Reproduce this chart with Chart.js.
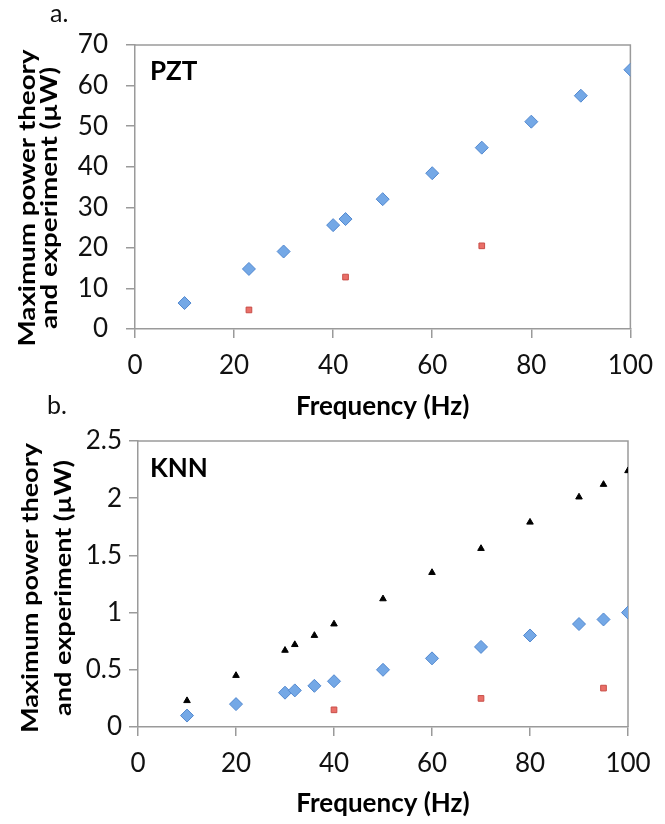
<!DOCTYPE html>
<html>
<head>
<meta charset="utf-8">
<script src="https://cdn.jsdelivr.net/npm/chart.js@4.4.1/dist/chart.umd.min.js"></script>
<style>
  html, body { margin: 0; padding: 0; background: #ffffff; }
  body { width: 665px; height: 824px; position: relative; overflow: hidden; }
  .wrap { position: absolute; left: 0; width: 665px; }
  #wrapA { top: 0; height: 430px; }
  #wrapB { top: 400px; height: 424px; }
  .lbl { position: absolute; font-family: Lato, "Open Sans", sans-serif; font-size: 25px; color: #111; }
</style>
</head>
<body>
<div class="wrap" id="wrapA"><canvas id="chartA" width="665" height="430"></canvas></div>
<div class="wrap" id="wrapB"><canvas id="chartB" width="665" height="424"></canvas></div>
<div class="lbl" style="left:50px; top:-3px;">a.</div>
<div class="lbl" style="left:47px; top:389px;">b.</div>
<script>
// ---------- DATA ----------
const xTickLabels = ['0', '20', '40', '60', '80', '100'];

// Panel a (PZT)
const pztTheoryFreq = [10, 23, 30, 40, 42.5, 50, 60, 70, 80, 90, 100];
const pztTheoryPower = [6.4, 14.8, 19.1, 25.6, 27.1, 32.0, 38.4, 44.7, 51.1, 57.5, 63.9];
const pztExpFreq = [23, 42.5, 70];
const pztExpPower = [4.7, 12.8, 20.5];
const pztYTickLabels = ['0', '10', '20', '30', '40', '50', '60', '70'];

// Panel b (KNN)
const knnTheoryFreq = [10, 20, 30, 32, 36, 40, 50, 60, 70, 80, 90, 95, 100];
const knnTheoryPower = [0.10, 0.20, 0.30, 0.32, 0.36, 0.40, 0.50, 0.60, 0.70, 0.80, 0.90, 0.94, 1.00];
const knnModelFreq = [10, 20, 30, 32, 36, 40, 50, 60, 70, 80, 90, 95, 100];
const knnModelPower = [0.23, 0.45, 0.67, 0.72, 0.80, 0.90, 1.12, 1.35, 1.56, 1.79, 2.01, 2.12, 2.24];
const knnExpFreq = [40, 70, 95];
const knnExpPower = [0.15, 0.25, 0.34];
const knnYTickLabels = ['0', '0.5', '1', '1.5', '2', '2.5'];

const yTitleLines = ['Maximum power theory', 'and experiment (\u00b5W)'];
const xTitle = 'Frequency (Hz)';

// ---------- STYLE ----------
const FONT = 'Lato, "Open Sans", sans-serif';
const AXIS_GRAY = '#9a9a9a';
const BLUE_FILL = '#74a8e6';
const BLUE_EDGE = '#5288cf';
const RED_FILL = '#ea6f68';
const RED_EDGE = '#c84e48';

function toXY(xs, ys) { return xs.map((x, i) => ({ x: x, y: ys[i] })); }

const framePlugin = {
  id: 'frame',
  beforeDatasetsDraw(chart) {
    const { ctx, chartArea: a } = chart;
    ctx.save();
    ctx.strokeStyle = AXIS_GRAY;
    ctx.lineWidth = 1.5;
    ctx.beginPath();
    ctx.moveTo(a.left, a.top);
    ctx.lineTo(a.right, a.top);
    ctx.lineTo(a.right, a.bottom);
    ctx.stroke();
    ctx.restore();
  }
};

const panelLabelPlugin = {
  id: 'panelLabel',
  afterDraw(chart, args, opts) {
    const { ctx, chartArea: a } = chart;
    ctx.save();
    ctx.font = 'bold 26px ' + FONT;
    ctx.fillStyle = '#000';
    ctx.textBaseline = 'middle';
    ctx.textAlign = 'left';
    ctx.fillText(opts.text, a.left + opts.dx, a.top + opts.dy);
    ctx.restore();
  }
};

// Two-line rotated y-axis title, stretched along its length like the reference
const yTitlePlugin = {
  id: 'yTitle',
  afterDraw(chart, args, opts) {
    const { ctx } = chart;
    ctx.save();
    ctx.font = 'bold ' + opts.size + 'px ' + FONT;
    ctx.fillStyle = '#000';
    ctx.textAlign = 'center';
    ctx.textBaseline = 'middle';
    const w = ctx.measureText(yTitleLines[0]).width;
    const sx = opts.length / w;
    yTitleLines.forEach((line, i) => {
      ctx.save();
      ctx.translate(opts.xs[i], opts.cy);
      ctx.rotate(-Math.PI / 2);
      ctx.scale(sx, 1);
      ctx.fillText(line, 0, 0);
      ctx.restore();
    });
    ctx.restore();
  }
};

function makeConfig(p) {
  return {
    type: 'scatter',
    data: { datasets: p.datasets },
    plugins: [framePlugin, panelLabelPlugin, yTitlePlugin],
    options: {
      responsive: false,
      animation: false,
      events: [],
      layout: { padding: { left: 0, top: p.padTop, right: p.padRight, bottom: 0 } },
      plugins: {
        legend: { display: false },
        tooltip: { enabled: false },
        panelLabel: { text: p.label, dx: p.labelDx, dy: p.labelDy },
        yTitle: p.yTitle
      },
      scales: {
        x: {
          type: 'linear',
          min: 0, max: 100,
          afterFit(s) { s.height = p.xHeight; },
          ticks: {
            stepSize: 20,
            padding: 12,
            color: '#111',
            font: { family: FONT, size: 26 },
            maxRotation: 0,
            callback: (v) => xTickLabels[Math.round(v / 20)]
          },
          grid: { display: true, drawOnChartArea: false, drawTicks: true, tickLength: 9, color: AXIS_GRAY, lineWidth: 1.5 },
          border: { display: true, color: AXIS_GRAY, width: 1.5 },
          title: {
            display: true, text: xTitle, color: '#000',
            font: { family: FONT, size: 26, weight: 'bold', lineHeight: 1.1 },
            padding: { top: 0, bottom: p.xTitlePad }
          }
        },
        y: {
          type: 'linear',
          min: 0, max: p.yMax,
          afterFit(s) { s.width = p.yWidth; },
          ticks: {
            stepSize: p.yStep,
            padding: p.yTickPad,
            color: '#111',
            font: { family: FONT, size: 26 },
            callback: (v) => p.yLabels[Math.round(v / p.yStep)]
          },
          grid: { display: true, drawOnChartArea: false, drawTicks: true, tickLength: 9, color: AXIS_GRAY, lineWidth: 1.5 },
          border: { display: true, color: AXIS_GRAY, width: 1.5 },
          title: { display: false }
        }
      }
    }
  };
}

const blueStyle = { pointStyle: 'rectRot', pointRadius: 6.5, backgroundColor: BLUE_FILL, borderColor: BLUE_EDGE, borderWidth: 1, showLine: false };
const redStyle = { pointStyle: 'rect', pointRadius: 4, backgroundColor: RED_FILL, borderColor: RED_EDGE, borderWidth: 1, showLine: false };
const blackStyle = { pointStyle: 'triangle', pointRadius: 3.8, backgroundColor: '#000', borderColor: '#000', borderWidth: 1, showLine: false };

new Chart(document.getElementById('chartA'), makeConfig({
  datasets: [
    Object.assign({ label: 'PZT theory', data: toXY(pztTheoryFreq, pztTheoryPower) }, blueStyle),
    Object.assign({ label: 'PZT experiment', data: toXY(pztExpFreq, pztExpPower) }, redStyle)
  ],
  padTop: 45, padRight: 34, xHeight: 101, yWidth: 135,
  yMax: 70, yStep: 10, yLabels: pztYTickLabels, yTickPad: 18,
  xTitlePad: 9,
  yTitle: { size: 22, length: 297, xs: [28, 50], cy: 198 },
  label: 'PZT', labelDx: 15, labelDy: 27
}));

new Chart(document.getElementById('chartB'), makeConfig({
  datasets: [
    Object.assign({ label: 'KNN model', data: toXY(knnModelFreq, knnModelPower) }, blackStyle),
    Object.assign({ label: 'KNN theory', data: toXY(knnTheoryFreq, knnTheoryPower) }, blueStyle),
    Object.assign({ label: 'KNN experiment', data: toXY(knnExpFreq, knnExpPower) }, redStyle)
  ],
  padTop: 41, padRight: 37, xHeight: 97, yWidth: 138,
  yMax: 2.5, yStep: 0.5, yLabels: knnYTickLabels, yTickPad: 7,
  xTitlePad: 6,
  yTitle: { size: 23, length: 290, xs: [31, 64], cy: 188 },
  label: 'KNN', labelDx: 12, labelDy: 28
}));
</script>
</body>
</html>
